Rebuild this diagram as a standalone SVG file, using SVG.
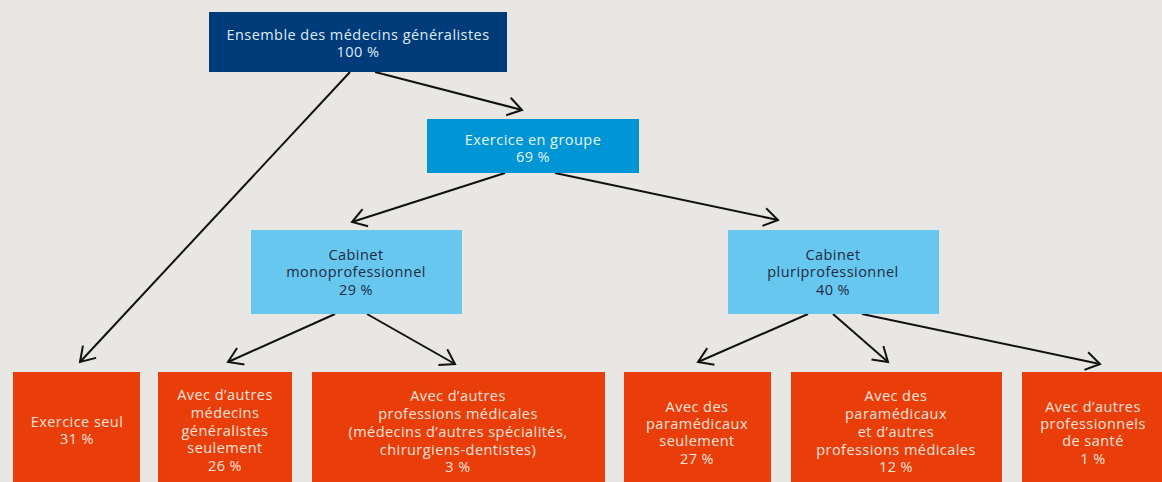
<svg xmlns="http://www.w3.org/2000/svg" width="1162" height="482" viewBox="0 0 1162 482">
<defs>
<style>
text{font-family:"Open Sans","DejaVu Sans",sans-serif;font-size:14.5px;letter-spacing:0.45px;text-anchor:middle}
.navy{fill:#003b79}
.blue{fill:#0096d6}
.light{fill:#67c7ee}
.orange{fill:#e93e0a}
.tl{fill:#dfeaf6}
.tb{fill:#e6f4fb}
.td{fill:#1d2a45}
.to{fill:#fbe3da}
.conn line{stroke:#111;stroke-width:2;fill:none;marker-end:url(#arr)}
</style>
<marker id="arr" markerUnits="userSpaceOnUse" markerWidth="20" markerHeight="22" refX="15" refY="10" orient="auto" viewBox="0 0 20 22">
<path d="M1,1 L15,10 L1,19" fill="none" stroke="#111" stroke-width="2"/>
</marker>
</defs>
<rect width="1162" height="482" fill="#e9e7e4"/>
<g class="conn" id="connectors">
<line x1="350" y1="72" x2="80" y2="362"/>
<line x1="375" y1="72" x2="522" y2="110"/>
<line x1="505" y1="173" x2="352" y2="222"/>
<line x1="555" y1="173" x2="778" y2="220"/>
<line x1="335" y1="314" x2="228" y2="362"/>
<line x1="367" y1="314" x2="455" y2="364"/>
<line x1="808" y1="314" x2="698" y2="362"/>
<line x1="833" y1="314" x2="888" y2="362"/>
<line x1="862" y1="314" x2="1100" y2="364"/>
</g>
<g id="n-ensemble">
<rect class="navy" x="209" y="12" width="298" height="60"/>
<text class="tl" x="358" y="40">Ensemble des médecins généralistes</text>
<text class="tl" x="358" y="57">100 %</text>
</g>
<g id="n-groupe">
<rect class="blue" x="427" y="119" width="212" height="54"/>
<text class="tb" x="533" y="145">Exercice en groupe</text>
<text class="tb" x="533" y="162">69 %</text>
</g>
<g id="n-mono">
<rect class="light" x="251" y="230" width="211" height="84"/>
<text class="td" x="356" y="260">Cabinet</text>
<text class="td" x="356" y="277">monoprofessionnel</text>
<text class="td" x="356" y="295">29 %</text>
</g>
<g id="n-pluri">
<rect class="light" x="728" y="230" width="211" height="84"/>
<text class="td" x="833" y="260">Cabinet</text>
<text class="td" x="833" y="277">pluriprofessionnel</text>
<text class="td" x="833" y="295">40 %</text>
</g>
<g id="n-seul">
<rect class="orange" x="13" y="372" width="127" height="115"/>
<text class="to" x="77" y="427">Exercice seul</text>
<text class="to" x="77" y="444">31 %</text>
</g>
<g id="n-generalistes">
<rect class="orange" x="158" y="372" width="134" height="115"/>
<text class="to" x="225" y="400">Avec d’autres</text>
<text class="to" x="225" y="418">médecins</text>
<text class="to" x="225" y="436">généralistes</text>
<text class="to" x="225" y="453">seulement</text>
<text class="to" x="225" y="471">26 %</text>
</g>
<g id="n-professions">
<rect class="orange" x="312" y="372" width="293" height="115"/>
<text class="to" x="458" y="401">Avec d’autres</text>
<text class="to" x="458" y="419">professions médicales</text>
<text class="to" x="458" y="437">(médecins d’autres spécialités,</text>
<text class="to" x="458" y="455">chirurgiens-dentistes)</text>
<text class="to" x="458" y="472">3 %</text>
</g>
<g id="n-paramed">
<rect class="orange" x="624" y="372" width="147" height="115"/>
<text class="to" x="697" y="412">Avec des</text>
<text class="to" x="697" y="429">paramédicaux</text>
<text class="to" x="697" y="446">seulement</text>
<text class="to" x="697" y="464">27 %</text>
</g>
<g id="n-paramed-autres">
<rect class="orange" x="791" y="372" width="211" height="115"/>
<text class="to" x="896" y="401">Avec des</text>
<text class="to" x="896" y="419">paramédicaux</text>
<text class="to" x="896" y="437">et d’autres</text>
<text class="to" x="896" y="455">professions médicales</text>
<text class="to" x="896" y="472">12 %</text>
</g>
<g id="n-sante">
<rect class="orange" x="1022" y="372" width="145" height="115"/>
<text class="to" x="1093" y="412">Avec d’autres</text>
<text class="to" x="1093" y="429">professionnels</text>
<text class="to" x="1093" y="446">de santé</text>
<text class="to" x="1093" y="464">1 %</text>
</g>
</svg>
